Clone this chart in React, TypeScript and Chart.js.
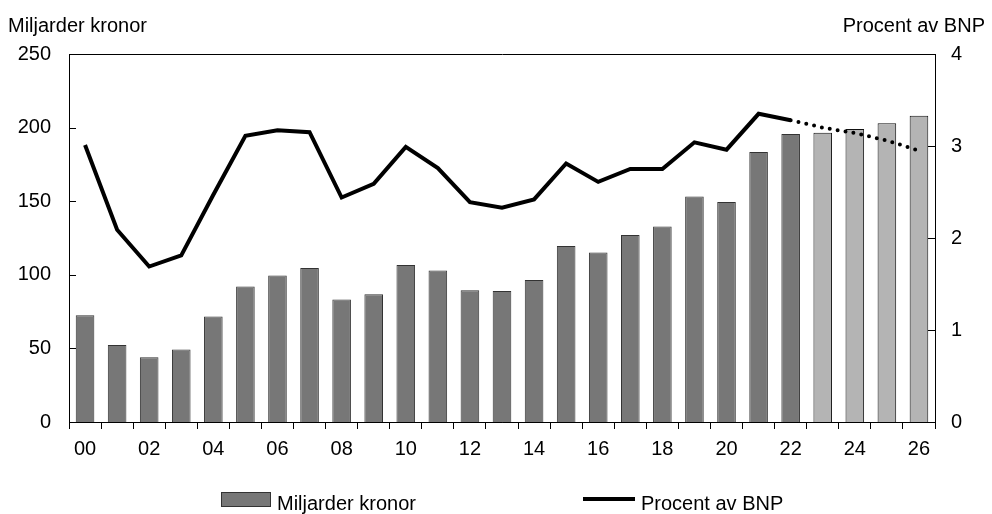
import React, { useEffect, useRef } from "react";
import { Chart, registerables } from "chart.js";

Chart.register(...registerables);

const years = ["00","01","02","03","04","05","06","07","08","09","10","11","12","13","14","15","16","17","18","19","20","21","22","23","24","25","26"];
const billionsSEK = [72.5, 52.3, 44, 49.2, 71.7, 92, 99.5, 104.7, 83.2, 86.8, 106.7, 102.9, 89.5, 89, 96.5, 119.6, 115.1, 127.1, 132.8, 153.2, 149.4, 183.5, 195.6, 196.5, 199, 203, 208];
const percentGDP = [3.01, 2.09, 1.69, 1.81, 2.47, 3.11, 3.17, 3.15, 2.44, 2.59, 2.99, 2.76, 2.39, 2.33, 2.42, 2.81, 2.61, 2.75, 2.75, 3.04, 2.96, 3.35, 3.28, 3.2, 3.14, 3.06, 2.95];
const firstForecastIndex = 23;
const leftTickValues = [0, 50, 100, 150, 200, 250];
const rightTickValues = [0, 1, 2, 3, 4];

const FONT = "'Liberation Sans', Arial, sans-serif";
const DARK = "#777777";
const LIGHT = "#b4b4b4";
const FS = 20;

const framePlugin = {
  id: "frame",
  afterDraw(chart: any) {
    const { ctx, chartArea } = chart;
    const { left, right, top, bottom } = chartArea;
    ctx.save();
    ctx.strokeStyle = "#000";
    ctx.lineWidth = 1;
    ctx.beginPath();
    ctx.rect(Math.round(left) + 0.5, Math.round(top) + 0.5, Math.round(right - left), Math.round(bottom - top));
    ctx.stroke();
    const yL = chart.scales.y;
    const yR = chart.scales.y1;
    ctx.beginPath();
    leftTickValues.forEach((v) => {
      const py = Math.round(yL.getPixelForValue(v)) + 0.5;
      ctx.moveTo(left, py);
      ctx.lineTo(left + 7, py);
    });
    rightTickValues.forEach((v) => {
      const py = Math.round(yR.getPixelForValue(v)) + 0.5;
      ctx.moveTo(right - 7, py);
      ctx.lineTo(right, py);
    });
    ctx.stroke();
    ctx.restore();
  },
};

export default function App() {
  const canvasRef = useRef<HTMLCanvasElement | null>(null);

  useEffect(() => {
    document.body.style.margin = "0";
    const canvas = canvasRef.current;
    if (!canvas) return;
    const isForecast = (ctx: any) => ctx.p0DataIndex >= firstForecastIndex - 1;
    const chart = new Chart(canvas, {
      type: "bar",
      data: {
        labels: years,
        datasets: [
          {
            type: "line",
            label: "Procent av BNP",
            data: percentGDP,
            yAxisID: "y1",
            borderColor: "#000",
            borderWidth: 4,
            pointRadius: 0,
            tension: 0,
            order: 0,
            segment: {
              borderDash: (ctx: any) => (isForecast(ctx) ? [0, 8] : undefined),
              borderWidth: (ctx: any) => (isForecast(ctx) ? 4 : 4),
              borderCapStyle: (ctx: any) => (isForecast(ctx) ? "round" : "butt"),
            },
          } as any,
          {
            type: "bar",
            label: "Miljarder kronor",
            data: billionsSEK,
            yAxisID: "y",
            backgroundColor: years.map((_, i) => (i >= firstForecastIndex ? LIGHT : DARK)),
            borderColor: years.map((_, i) => (i >= firstForecastIndex ? "#111" : "#333")),
            borderWidth: 1,
            barPercentage: 0.58,
            categoryPercentage: 1,
            order: 1,
          },
        ],
      },
      options: {
        animation: false,
        responsive: false,
        devicePixelRatio: 1,
        layout: { padding: { top: 54, left: 0, right: 0, bottom: 0 } },
        plugins: {
          legend: { display: false },
          tooltip: { enabled: false },
        },
        scales: {
          x: {
            type: "category",
            offset: true,
            grid: {
              offset: true,
              drawOnChartArea: false,
              drawTicks: true,
              tickLength: 7,
              color: "#000",
              lineWidth: 1,
            },
            border: { display: true, color: "#000", width: 1 },
            ticks: {
              autoSkip: false,
              maxRotation: 0,
              padding: 8,
              color: "#000",
              font: { family: FONT, size: FS },
              callback: (_v: any, i: number) => (i % 2 === 0 ? years[i] : ""),
            },
            afterFit: (s: any) => {
              s.height = 92;
            },
          },
          y: {
            position: "left",
            min: 0,
            max: 250,
            grid: { display: false, drawTicks: false },
            border: { display: true, color: "#000" },
            ticks: {
              stepSize: 50,
              padding: 18,
              color: "#000",
              font: { family: FONT, size: FS },
            },
            afterFit: (s: any) => {
              s.width = 69;
            },
          },
          y1: {
            position: "right",
            min: 0,
            max: 4,
            grid: { display: false, drawTicks: false },
            border: { display: true, color: "#000" },
            ticks: {
              stepSize: 1,
              padding: 16,
              color: "#000",
              font: { family: FONT, size: FS },
            },
            afterFit: (s: any) => {
              s.width = 57;
            },
          },
        },
      },
      plugins: [framePlugin],
    });
    return () => chart.destroy();
  }, []);

  const textStyle: React.CSSProperties = {
    position: "absolute",
    fontFamily: FONT,
    fontSize: FS,
    color: "#000",
    whiteSpace: "nowrap",
    lineHeight: "24px",
  };

  return (
    <div style={{ position: "relative", width: 992, height: 514, background: "#fff", overflow: "hidden" }}>
      <canvas ref={canvasRef} width={992} height={514} style={{ display: "block" }} />
      <div style={{ ...textStyle, left: 8, top: 13 }}>Miljarder kronor</div>
      <div style={{ ...textStyle, right: 7, top: 13 }}>Procent av BNP</div>
      <div style={{ position: "absolute", left: 221, top: 492, width: 48, height: 13, background: DARK, border: "1px solid #333" }} />
      <div style={{ ...textStyle, left: 277, top: 491 }}>Miljarder kronor</div>
      <div style={{ position: "absolute", left: 583, top: 497, width: 52, height: 4, background: "#000" }} />
      <div style={{ ...textStyle, left: 641, top: 491 }}>Procent av BNP</div>
    </div>
  );
}
